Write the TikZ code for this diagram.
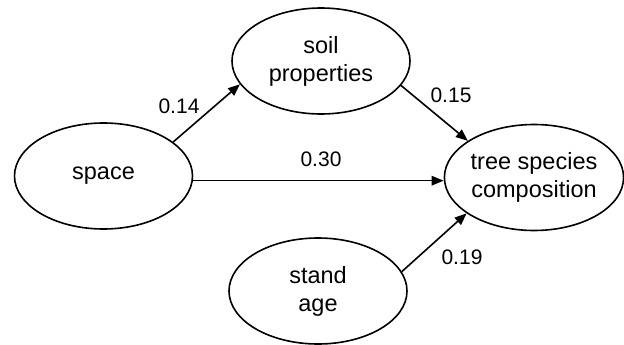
\documentclass[tikz,border=0pt]{standalone}
\usepackage{fontspec}
\setmainfont{Liberation Sans}
\usetikzlibrary{shapes.geometric,arrows.meta}
\begin{document}
\begin{tikzpicture}[x=1pt,y=-1pt,
  var/.style={ellipse,draw,line width=1.6pt,minimum width=178pt,minimum height=106pt,inner sep=0pt,align=center,font=\fontsize{23.5}{28}\selectfont},
  path/.style={line width=1.6pt,-{Triangle[length=12pt,width=9.5pt]}},
  coef/.style={font=\fontsize{21}{25}\selectfont,inner sep=0pt}]
\useasboundingbox (0,0) rectangle (624,345);
\node[var] (space) at (103.5,176) {space};
\node[var] (soil) at (321,61) {soil\\properties};
\node[var] (tree) at (534,177.5) {tree species\\composition};
\node[var] (stand) at (318,291) {stand\\age};
\draw[path] (space.26.6) -- (soil.196.3);
\draw[path] (soil.343) -- (tree.151.4);
\draw[path] (space.-3.3) -- (space.-3.3 -| tree.west);
\draw[path] (stand.13) -- (tree.208.7);
\node[coef] (c14) at (179,106) {0.14};
\node[coef] (c15) at (451,95) {0.15};
\node[coef] (c30) at (321,159) {0.30};
\node[coef] (c19) at (462,257) {0.19};
\end{tikzpicture}
\end{document}
